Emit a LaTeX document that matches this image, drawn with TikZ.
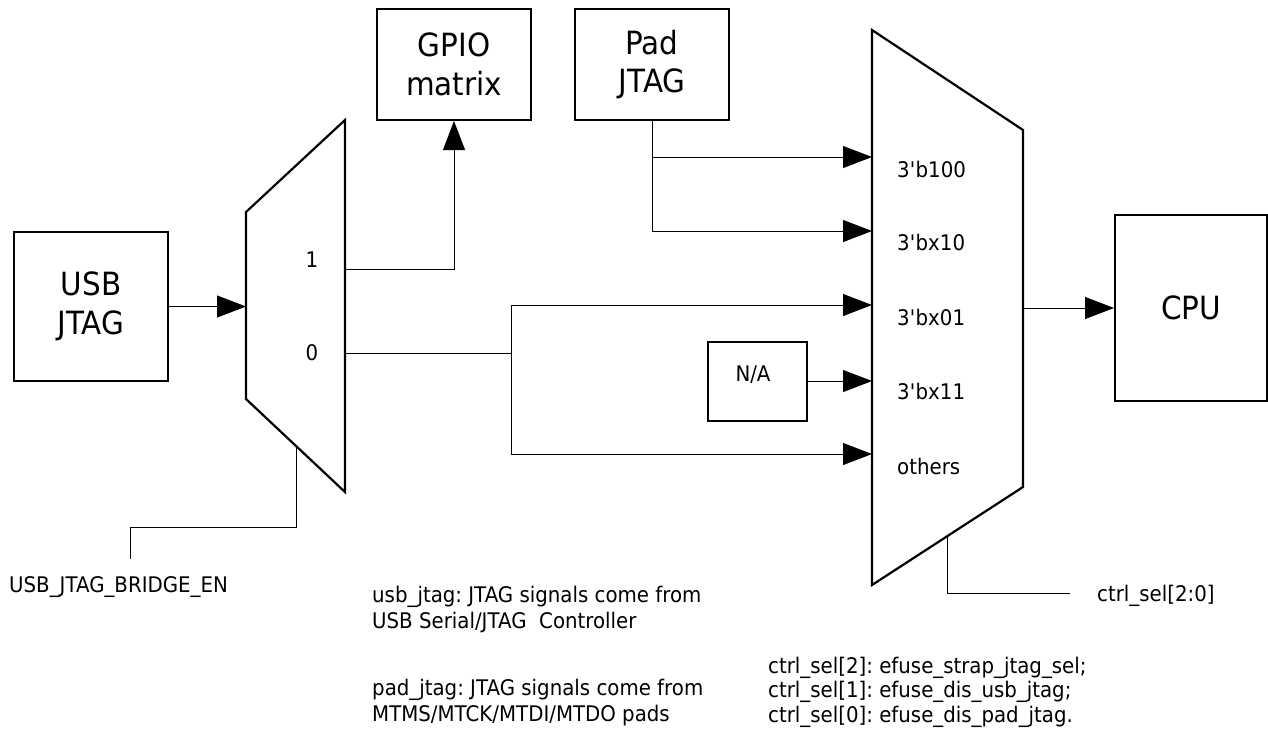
\documentclass[tikz,border=0pt]{standalone}
\usepackage{fontspec}
\setmainfont{DejaVu Sans}[FakeStretch=0.92]
\usetikzlibrary{arrows.meta,calc}
\frenchspacing
\begin{document}
\frenchspacing
\begin{tikzpicture}[x=1pt,y=-1pt,
  blk/.style={draw, line width=2pt, align=center, inner sep=0pt, font=\fontsize{32}{38.5}\selectfont},
  smallblk/.style={draw, line width=2pt, inner sep=0pt},
  wire/.style={line width=1pt},
  arr/.style={wire, -{Triangle[length=29pt,width=22pt]}},
  mux/.style={draw, line width=2.2pt, line join=miter},
  lbl/.style={font=\fontsize{21.5}{25}\selectfont, inner sep=0pt},
  note/.style={font=\fontsize{21.5}{26}\selectfont, align=left, inner sep=0pt, anchor=west}]
\useasboundingbox (0,0) rectangle (1268,740);

% blocks
\node[blk, minimum width=154pt, minimum height=149pt] (usb) at (91,306.5) {USB\\JTAG};
\node[blk, minimum width=154pt, minimum height=111pt] (gpio) at (454,64.5) {GPIO\\matrix};
\node[blk, minimum width=154pt, minimum height=111pt] (pad) at (652,64.5) {Pad\\JTAG};
\node[blk, minimum width=152pt, minimum height=186pt] (cpu) at (1191,308) {CPU};
\node[smallblk, minimum width=99pt, minimum height=79pt] (na) at (757.5,381) {};
\node[lbl] (natext) at (753,375) {N/A};

% left mux
\coordinate (m1tl) at (246,212);
\coordinate (m1tr) at (345,120);
\coordinate (m1br) at (345,492);
\coordinate (m1bl) at (246,399);
\draw[mux] (m1tl) -- (m1tr) -- (m1br) -- (m1bl) -- cycle;
\coordinate (m1in) at (246,306.5);
\coordinate (m1o1) at (345,269);
\coordinate (m1o0) at (345,353);
\coordinate (m1s) at (296,446);
\node[lbl] (l1) at (312,260) {1};
\node[lbl] (l0) at (312,353) {0};

% big mux
\coordinate (m2tl) at (872,30);
\coordinate (m2tr) at (1023,130);
\coordinate (m2br) at (1023,487);
\coordinate (m2bl) at (872,585);
\draw[mux] (m2tl) -- (m2tr) -- (m2br) -- (m2bl) -- cycle;
\coordinate (in1) at (872,157);
\coordinate (in2) at (872,231);
\coordinate (in3) at (872,305);
\coordinate (in4) at (872,381);
\coordinate (in5) at (872,454);
\coordinate (m2out) at (1023,308);
\coordinate (m2s) at (947,536);
\node[lbl, anchor=west] (i1) at (897,169) {3\textquotesingle b100};
\node[lbl, anchor=west] (i2) at (897,242) {3\textquotesingle bx10};
\node[lbl, anchor=west] (i3) at (897,317) {3\textquotesingle bx01};
\node[lbl, anchor=west] (i4) at (897,391) {3\textquotesingle bx11};
\node[lbl, anchor=west] (i5) at (897,466) {others};

% connectors
\draw[arr] (usb.east) -- (m1in);
\draw[arr] (m1o1) -| (gpio.south);
\coordinate (j0) at (511,353);
\draw[wire] (m1o0) -- (j0);
\draw[arr] (j0) |- (in3);
\draw[arr] (j0) |- (in5);
\draw[arr] (pad.south) |- (in2);
\draw[arr] (pad.south |- in1) -- (in1);
\draw[arr] (na.east) -- (in4);
\draw[arr] (m2out) -- (cpu.west);

% select lines
\coordinate (enk) at (130,527);
\coordinate (en) at (130,559);
\draw[wire] (m1s) |- (enk) -- (en);
\coordinate (ce) at (1070,593);
\draw[wire] (m2s) |- (ce);

% texts
\node[lbl, anchor=west] (bridge) at (9,587) {USB\_JTAG\_BRIDGE\_EN};
\node[lbl, anchor=west] (ctrl) at (1097,596) {ctrl\_sel[2:0]};
\node[note] (n1) at (372,609) {usb\_jtag: JTAG signals come from\\USB Serial/JTAG\ \ Controller};
\node[note] (n2) at (372,703) {pad\_jtag: JTAG signals come from\\MTMS/MTCK/MTDI/MTDO pads};
\node[note, font=\fontsize{21.5}{24.5}\selectfont] (n3) at (768,692) {ctrl\_sel[2]: efuse\_strap\_jtag\_sel;\\ctrl\_sel[1]: efuse\_dis\_usb\_jtag;\\ctrl\_sel[0]: efuse\_dis\_pad\_jtag.};
\end{tikzpicture}
\end{document}
